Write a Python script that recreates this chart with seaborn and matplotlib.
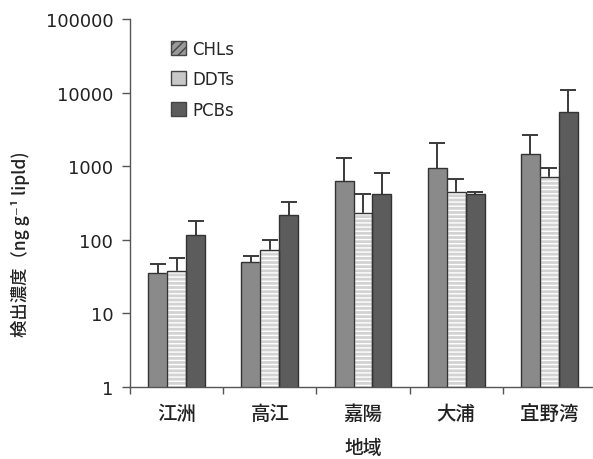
import matplotlib
matplotlib.use("Agg")
import matplotlib.pyplot as plt
from matplotlib.patches import Patch, Rectangle
import numpy as np
import pandas as pd
import seaborn as sns

# data (log scale)
regions = ["江洲", "高江", "嘉陽", "大浦", "宜野湾"]
compounds = ["CHLs", "DDTs", "PCBs"]
chls = [35, 50, 620, 950, 1470]
ddts = [38, 73, 230, 440, 720]
pcbs = [116, 218, 415, 415, 5400]
chls_sd = [12, 11, 660, 1090, 1150]
ddts_sd = [19, 27, 185, 225, 215]
pcbs_sd = [66, 107, 395, 30, 5500]
yticks = [1, 10, 100, 1000, 10000, 100000]

df = pd.DataFrame({
    "region": regions * 3,
    "compound": [c for c in compounds for _ in regions],
    "value": chls + ddts + pcbs,
})
sds = [chls_sd, ddts_sd, pcbs_sd]

sns.set_style("white")
plt.rcParams["font.family"] = ["DejaVu Sans", "Noto Sans CJK JP"]
cjk = ["Noto Sans CJK JP", "DejaVu Sans"]

fig = plt.figure(figsize=(5.93, 4.60), dpi=100)
ax = fig.add_axes([130 / 593, 72 / 460, 466 / 593, 368 / 460])

fills = ["#8a8a8a", "#d2d2d2", "#5c5c5c"]
edge = "#333333"
sns.barplot(data=df, x="region", y="value", hue="compound", order=regions,
            hue_order=compounds, palette=fills, width=0.61, errorbar=None,
            edgecolor=edge, linewidth=1.0, legend=False, ax=ax, zorder=2)
ax.set_yscale("log")

bar_groups = list(ax.containers)
for i, cont in enumerate(bar_groups):
    xs = [p.get_x() + p.get_width() / 2 for p in cont]
    hs = [p.get_height() for p in cont]
    if i == 1:
        for p in cont:
            p.set_hatch("----")
            p.set_edgecolor("white")
            ax.add_patch(Rectangle(p.get_xy(), p.get_width(), p.get_height(),
                                   fill=False, edgecolor=edge, lw=1.0, zorder=3))
    eb = ax.errorbar(xs, hs, yerr=[np.zeros(len(hs)), sds[i]], fmt="none",
                     ecolor="#3a3a3a", elinewidth=1.4, capsize=5.5, capthick=1.4,
                     zorder=1)
    eb[1][0].set_visible(False)

ax.set_ylim(1, 100000)
ax.set_yticks(yticks, [str(t) for t in yticks])
ax.minorticks_off()
ax.set_xlim(-0.5, 4.5)
ax.set_xticks(range(5), regions)
for lab in ax.get_xticklabels():
    lab.set_family(cjk)
    lab.set_fontweight("medium")
ax.set_xticks(np.arange(-0.5, 5, 1), minor=True)
ax.tick_params(axis="x", which="major", length=0, labelsize=14, pad=12,
               labelcolor="#222222")
ax.tick_params(axis="x", which="minor", length=5, width=1, color="#555555",
               direction="out", bottom=True)
ax.tick_params(axis="y", length=6, width=1, color="#555555", direction="out",
               left=True, labelsize=13, pad=6, labelcolor="#222222")

for s in ["top", "right"]:
    ax.spines[s].set_visible(False)
for s in ["left", "bottom"]:
    ax.spines[s].set_color("#555555")
    ax.spines[s].set_linewidth(1.0)

ax.set_xlabel("地域", fontsize=13.5, labelpad=11, family=cjk,
              fontweight="medium", color="#222222")
ax.set_ylabel("検出濃度（ng g⁻¹ lipld)", fontsize=12.5, family=cjk,
              fontweight="medium", color="#222222")
ax.yaxis.set_label_coords(-0.215, 0.39)

handles = [
    Patch(facecolor="#9a9a9a", edgecolor="#444444", hatch="////", label="CHLs"),
    Patch(facecolor="#c8c8c8", edgecolor="#444444", label="DDTs"),
    Patch(facecolor="#5c5c5c", edgecolor="#444444", label="PCBs"),
]
ax.legend(handles=handles, loc="upper left", bbox_to_anchor=(0.055, 0.985),
          frameon=False, fontsize=12, handlelength=0.9, handleheight=0.9,
          handletextpad=0.4, labelspacing=0.75)

fig.savefig("out.png", dpi=100)
